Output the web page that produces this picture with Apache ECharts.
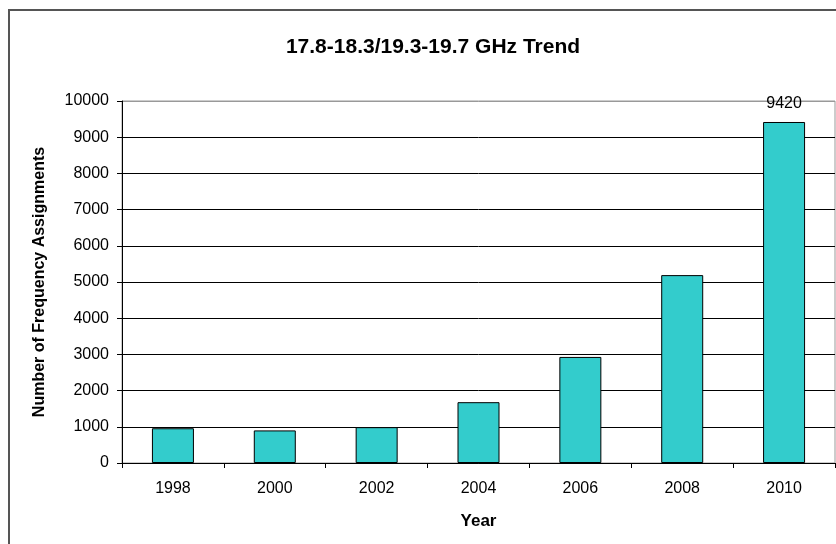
<!DOCTYPE html>
<html>
<head>
<meta charset="utf-8">
<script src="https://cdn.jsdelivr.net/npm/echarts@6/dist/echarts.min.js"></script>
<style>html,body{margin:0;padding:0;background:#fff}#c{width:836px;height:544px}</style>
</head>
<body>
<div id="c"></div>
<script>
var years = ['1998', '2000', '2002', '2004', '2006', '2008', '2010'];
var assignments = [960, 900, 990, 1680, 2930, 5190, 9420];
var yTicks = [0, 1000, 2000, 3000, 4000, 5000, 6000, 7000, 8000, 9000, 10000];
var labeledIndex = 6;

var font = 'Liberation Sans, Arial, sans-serif';
var chart = echarts.init(document.getElementById('c'), null, {renderer: 'canvas'});
var splitColors = yTicks.map(function (v, i) { return i === yTicks.length - 1 ? '#999999' : '#000000'; });

chart.setOption({
  animation: false,
  backgroundColor: '#ffffff',
  graphic: [{
    type: 'rect',
    shape: {x: 9, y: 10, width: 900, height: 600},
    style: {fill: 'none', stroke: '#555555', lineWidth: 2},
    silent: true
  }],
  title: {
    text: '17.8-18.3/19.3-19.7 GHz Trend',
    left: 428, top: 32, textAlign: 'center',
    textStyle: {fontFamily: font, fontSize: 21, fontWeight: 'bold', color: '#000'}
  },
  grid: {left: 122, right: 1, top: 101, bottom: 81, show: true, borderColor: '#999999', borderWidth: 1},
  xAxis: {
    type: 'category',
    data: years,
    name: 'Year',
    nameLocation: 'middle',
    nameGap: 50,
    nameTextStyle: {fontFamily: font, fontSize: 17, fontWeight: 'bold', color: '#000'},
    axisLine: {lineStyle: {color: '#000', width: 1}},
    axisTick: {show: true, length: 5, lineStyle: {color: '#000'}},
    axisLabel: {fontFamily: font, fontSize: 16, color: '#000', margin: 18}
  },
  yAxis: {
    type: 'value',
    min: 0, max: 10000, interval: 1000,
    name: 'Number of Frequency Assignments',
    nameLocation: 'middle',
    nameGap: 74,
    nameTextStyle: {fontFamily: font, fontSize: 16, fontWeight: 'bold', color: '#000'},
    axisLine: {show: true, lineStyle: {color: '#000', width: 1}},
    axisTick: {show: true, length: 5, lineStyle: {color: '#000'}},
    axisLabel: {fontFamily: font, fontSize: 16, color: '#000', margin: 13, formatter: function (v) { return String(v); }},
    splitLine: {show: true, lineStyle: {color: splitColors, width: 1}}
  },
  series: [{
    type: 'bar',
    barWidth: 42,
    data: assignments.map(function (v, i) {
      return {
        value: v,
        label: {show: i === labeledIndex}
      };
    }),
    itemStyle: {color: '#33CCCC', borderColor: '#000', borderWidth: 1},
    label: {position: 'top', distance: 10, fontFamily: font, fontSize: 16, color: '#000'}
  }]
});
</script>
</body>
</html>
